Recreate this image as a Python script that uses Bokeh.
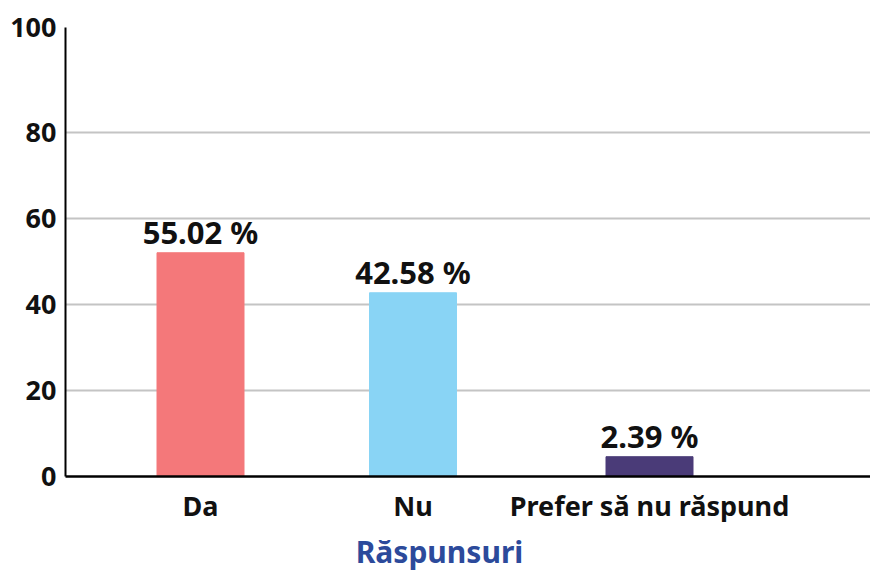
from bokeh.plotting import figure
from bokeh.models import ColumnDataSource, FixedTicker, LabelSet, LinearAxis, Range1d
from bokeh.core.properties import value
from bokeh.embed import file_html
from bokeh.resources import INLINE

# data
categories = ["Da", "Nu", "Prefer să nu răspund"]
percent_labels = ["55.02 %", "42.58 %", "2.39 %"]
bar_heights = [52.0, 42.7, 4.6]
x_positions = [1.35, 3.475, 5.84]
colors = ["#f4787a", "#89d4f5", "#4a3b78"]
y_tick_values = [0, 20, 40, 60, 80, 104.35]
y_tick_labels = ["0", "20", "40", "60", "80", "100"]
x_axis_title = "Răspunsuri"
x_title_position = 3.74

FONT = "Noto Sans"

src = ColumnDataSource(dict(x=x_positions, top=bar_heights, color=colors,
                            label=percent_labels, cat=categories))

p = figure(width=870, height=574, output_backend="svg", toolbar_location=None,
           x_range=Range1d(0, 8.05), y_range=Range1d(0, 104.35),
           min_border_left=65, min_border_right=0, min_border_top=27,
           min_border_bottom=97)
p.outline_line_color = None
p.background_fill_color = "white"
p.border_fill_color = "white"

p.vbar(x="x", top="top", width=0.87, color="color", source=src)

labels = LabelSet(x="x", y="top", text="label", source=src, y_offset=9,
                  text_align="center", text_baseline="alphabetic",
                  text_font=value(FONT), text_font_size=value("31px"),
                  text_color="#111111", text_font_style="bold")
p.add_layout(labels)

# y axis
p.yaxis.ticker = FixedTicker(ticks=y_tick_values)
p.yaxis.major_label_overrides = {v: l for v, l in zip(y_tick_values, y_tick_labels)}
p.yaxis.major_tick_line_color = None
p.yaxis.minor_tick_line_color = None
p.yaxis.major_label_standoff = 3
p.yaxis.major_label_text_font = FONT
p.yaxis.major_label_text_font_size = "27px"
p.yaxis.major_label_text_color = "#111111"
p.yaxis.major_label_text_font_style = "bold"
p.yaxis.axis_line_color = "black"
p.yaxis.axis_line_width = 2

# x axis
p.xaxis.ticker = FixedTicker(ticks=x_positions)
p.xaxis.major_label_overrides = {v: c for v, c in zip(x_positions, categories)}
p.xaxis.major_tick_line_color = None
p.xaxis.minor_tick_line_color = None
p.xaxis.major_tick_out = 0
p.xaxis.major_tick_in = 0
p.xaxis.major_label_standoff = 10
p.xaxis.major_label_text_font = FONT
p.xaxis.major_label_text_font_size = "27px"
p.xaxis.major_label_text_color = "#111111"
p.xaxis.major_label_text_font_style = "bold"
p.xaxis.axis_line_color = "black"
p.xaxis.axis_line_width = 2.5

# axis title, centred under the whole chart
title_axis = LinearAxis(ticker=FixedTicker(ticks=[x_title_position]),
                        major_label_overrides={x_title_position: x_axis_title},
                        axis_line_color=None, major_tick_line_color=None,
                        minor_tick_line_color=None, major_tick_out=0,
                        major_tick_in=0, major_label_standoff=4,
                        major_label_text_line_height=0.8,
                        major_label_text_font=FONT,
                        major_label_text_font_size="30px",
                        major_label_text_font_style="bold",
                        major_label_text_color="#2c4a9b")
p.add_layout(title_axis, "below")

p.xgrid.grid_line_color = None
p.ygrid.grid_line_color = "#c4c4c4"
p.ygrid.grid_line_width = 2

open("out.html", "w").write(file_html(p, INLINE))
